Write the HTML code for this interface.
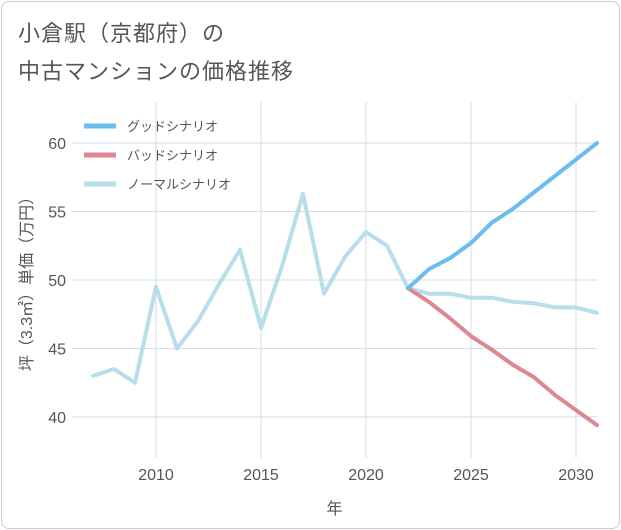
<!DOCTYPE html>
<html><head><meta charset="utf-8"><style>
body{margin:0;background:#fff;font-family:"Liberation Sans","Noto Sans CJK JP",sans-serif;}
#wrap{position:relative;width:621px;height:530px;}
#frame{position:absolute;left:1px;top:1px;width:617px;height:526px;border:1px solid #ccc;border-radius:8px;}
.title{position:absolute;left:18px;font-size:22px;color:#555;letter-spacing:1px;}
</style></head><body>
<div id="wrap">
<div id="frame"></div>
<div class="title" style="top:16px">小倉駅（京都府）の</div>
<div class="title" style="top:54px">中古マンションの価格推移</div>
<svg id="chart" width="621" height="530" style="position:absolute;left:0;top:0"></svg>
</div>
<script>
const years=[2007,2008,2009,2010,2011,2012,2013,2014,2015,2016,2017,2018,2019,2020,2021,2022,2023,2024,2025,2026,2027,2028,2029,2030,2031];
const normalVals=[43.0,43.5,42.5,49.5,45.0,47.0,49.7,52.2,46.5,51.0,56.3,49.0,51.7,53.5,52.5,49.4,49.0,49.0,48.7,48.7,48.4,48.3,48.0,48.0,47.6];
const goodYears=[2022,2023,2024,2025,2026,2027,2028,2029,2030,2031];
const goodVals=[49.4,50.8,51.6,52.7,54.2,55.2,56.4,57.6,58.8,60.0];
const badVals=[49.4,48.4,47.2,45.9,44.9,43.8,42.9,41.6,40.5,39.4];
const xTicks=[2010,2015,2020,2025,2030];
const yTicks=[40,45,50,55,60];
const seriesNames=["グッドシナリオ","バッドシナリオ","ノーマルシナリオ"];
const NS="http://www.w3.org/2000/svg";
const L=72,R=597,T=102,B=458;
const x=v=>L+(v-2006)*(R-L)/25;
const y=v=>B-(v-37)*(B-T)/26;
const svg=document.getElementById('chart');
function mk(t,a){const e=document.createElementNS(NS,t);for(const k in a)e.setAttribute(k,a[k]);svg.appendChild(e);return e;}
const bg=mk('rect',{x:L,y:T,width:R-L,height:B-T,fill:'#fff'});


yTicks.forEach(v=>{const g=mk('line',{x1:L,x2:R,y1:y(v),y2:y(v),stroke:'#d5dde6'});


const t=mk('text',{x:L-6,y:y(v)+6,'text-anchor':'end','font-size':16,fill:'#555'});t.textContent=v;

});
xTicks.forEach(v=>{const g=mk('line',{x1:x(v),x2:x(v),y1:T,y2:B,stroke:'#d5dde6'});


const t=mk('text',{x:x(v),y:B+22,'text-anchor':'middle','font-size':16,fill:'#555'});t.textContent=v;

});
const xt=mk('text',{x:(L+R)/2,y:514,'text-anchor':'middle','font-size':16,fill:'#555'});xt.textContent='年';


const yt=mk('text',{x:0,y:0,'text-anchor':'middle','font-size':16,fill:'#555',transform:`translate(32,${(T+B)/2}) rotate(-90)`});yt.textContent='坪（3.3㎡）単価（万円）';


function line(xs,vs,color,name){const p=mk('polyline',{points:xs.map((yr,i)=>x(yr)+','+y(vs[i])).join(' '),fill:'none',stroke:color,'stroke-width':4,'stroke-linejoin':'round','stroke-linecap':'round'});

}
line(years,normalVals,'#b7deeb','normal-scenario-line');
line(goodYears,badVals,'#dd8890','bad-scenario-line');
line(goodYears,goodVals,'#6cbcf0','good-scenario-line');
const colors=['#6cbcf0','#dd8890','#b7deeb'];
seriesNames.forEach((n,i)=>{const yy=126+i*29;
const l=mk('line',{x1:84,x2:116,y1:yy,y2:yy,stroke:colors[i],'stroke-width':5});


const t=mk('text',{x:127,y:yy+5,'font-size':13,fill:'#555'});t.textContent=n;

});
</script>
</body></html>
